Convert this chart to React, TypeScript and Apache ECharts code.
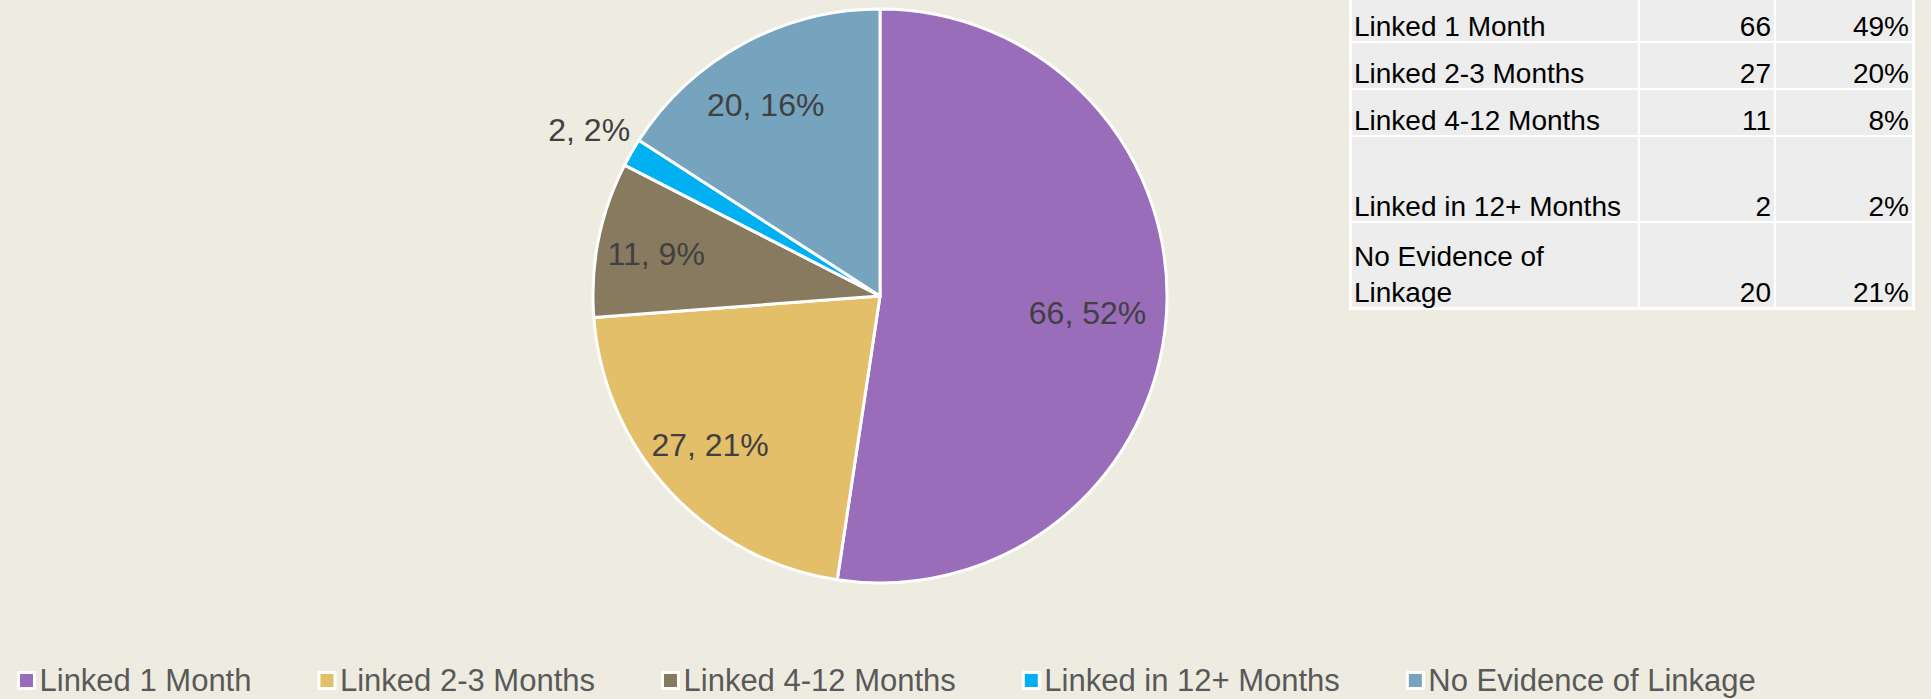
import React, { useEffect, useRef } from "react";
import * as echarts from "echarts";

const categories = [
  "Linked 1 Month",
  "Linked 2-3 Months",
  "Linked 4-12 Months",
  "Linked in 12+ Months",
  "No Evidence of Linkage",
];
const counts = [66, 27, 11, 2, 20];
const colors = ["#996dba", "#e4bf6a", "#887a5f", "#00b0f0", "#76a3bd"];

const tableLabels = [
  "Linked 1 Month",
  "Linked 2-3 Months",
  "Linked 4-12 Months",
  "Linked in 12+ Months",
  "No Evidence of\nLinkage",
];
const tableCounts = ["66", "27", "11", "2", "20"];
const tablePercents = ["49%", "20%", "8%", "2%", "21%"];

const BG = "#eeece1";
const FONT = "'Liberation Sans', Arial, sans-serif";

export default function App() {
  const ref = useRef<HTMLDivElement>(null);

  useEffect(() => {
    document.body.style.margin = "0";
    if (!ref.current) return;
    const chart = echarts.init(ref.current, null, { renderer: "svg" });

    const cx = 880;
    const cy = 296;
    const R = 287;
    const total = counts.reduce((a, b) => a + b, 0);
    const mids: number[] = [];
    let acc = 0;
    counts.forEach((v) => {
      mids.push(((acc + v / 2) / total) * 2 * Math.PI);
      acc += v;
    });

    // table layout
    const colX = [1352, 1640, 1776];
    const colW = [286, 134, 136];
    const rowTop = [-4, 43, 90, 137, 223];
    const rowH = [45, 45, 45, 84, 84];
    const graphic: any[] = [
      {
        type: "rect",
        shape: { x: 1349, y: -6, width: 566, height: 316 },
        style: { fill: "#ffffff" },
        silent: true,
      },
    ];
    const lineH = 36;
    tableLabels.forEach((lab, i) => {
      const cells = [lab, tableCounts[i], tablePercents[i]];
      cells.forEach((txt, j) => {
        graphic.push({
          type: "rect",
          shape: { x: colX[j], y: rowTop[i], width: colW[j], height: rowH[i] },
          style: { fill: "#ededed" },
          silent: true,
        });
        const lines = txt.split("\n").length;
        const baseline = rowTop[i] + rowH[i] - 5;
        graphic.push({
          type: "text",
          x: j === 0 ? colX[j] + 2 : colX[j] + colW[j] - 3,
          y: baseline - 10 - ((lines - 1) * lineH) / 2,
          silent: true,
          style: {
            text: txt,
            fill: "#000000",
            font: `28px ${FONT}`,
            lineHeight: lineH,
            align: j === 0 ? "left" : "right",
            verticalAlign: "middle",
          },
        });
      });
    });

    chart.setOption({
      animation: false,
      backgroundColor: BG,
      color: colors,
      legend: {
        left: 17,
        top: 665,
        padding: 0,
        icon: "rect",
        itemWidth: 16,
        itemHeight: 16,
        itemGap: 66,
        itemStyle: { borderColor: "#ffffff", borderWidth: 3 },
        textStyle: { fontSize: 31, color: "#595959", fontFamily: FONT },
        data: categories,
      },
      graphic,
      series: [
        {
          type: "pie",
          center: [cx, cy],
          radius: R,
          startAngle: 90,
          clockwise: true,
          percentPrecision: 0,
          avoidLabelOverlap: false,
          emphasis: { disabled: true },
          itemStyle: { borderColor: "#ffffff", borderWidth: 3 },
          label: {
            show: true,
            position: "inside",
            formatter: "{c}, {d}%",
            fontSize: 32,
            color: "#404040",
            fontFamily: FONT,
          },
          labelLine: { show: false },
          labelLayout: (p: any) => {
            const i = p.dataIndex;
            const a = mids[i];
            const outside = counts[i] / total < 0.05;
            const f = outside ? 1.17 : 0.76;
            return {
              x: cx + R * f * Math.sin(a) - (outside ? 0 : 10),
              y: cy - R * f * Math.cos(a) + (outside ? 2 : 1),
              align: "center",
              verticalAlign: "middle",
            };
          },
          data: categories.map((name, i) => ({ name, value: counts[i] })),
        },
      ],
    });

    return () => chart.dispose();
  }, []);

  return <div ref={ref} style={{ width: 1931, height: 699 }} />;
}
